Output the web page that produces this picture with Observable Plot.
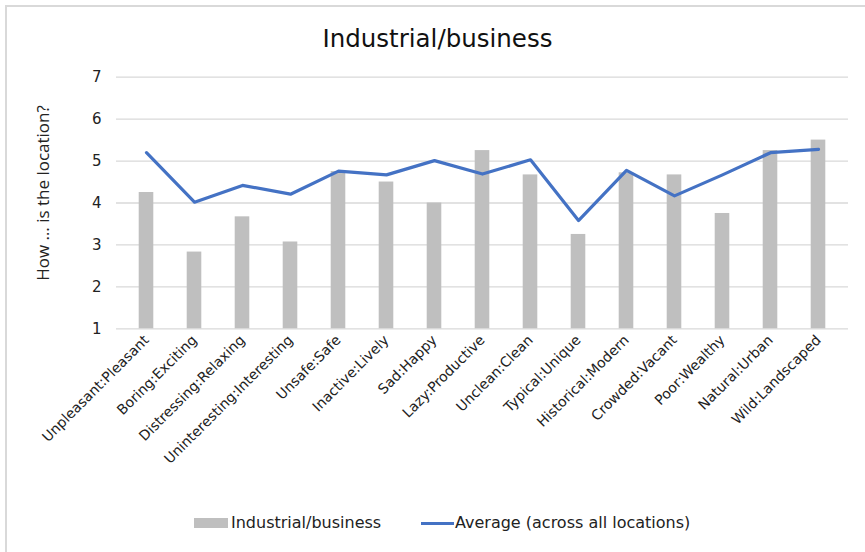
<!DOCTYPE html>
<html>
<head>
<meta charset="utf-8">
<script src="https://cdn.jsdelivr.net/npm/d3@7"></script>
<script src="https://cdn.jsdelivr.net/npm/@observablehq/plot@0.6"></script>
<style>
  html, body { margin: 0; padding: 0; background: #fff; width: 865px; height: 552px; overflow: hidden; }
  #frame { position: absolute; left: 5px; top: 5px; width: 900px; height: 600px; border: 2px solid #d9d9d9; box-sizing: border-box; }
  #title { position: absolute; left: 0; top: 24px; width: 875px; text-align: center; font-family: "DejaVu Sans", Verdana, sans-serif; font-size: 24.5px; color: #111; }
  #chart { position: absolute; left: 0; top: 60px; }
  #ylabel { position: absolute; left: 42px; top: 193px; transform: translate(-50%, -50%) rotate(-90deg); white-space: nowrap; font-family: "Open Sans", sans-serif; font-size: 17px; color: #222; }
  #legend { position: absolute; top: 513px; left: 0; font-family: "DejaVu Sans", Verdana, sans-serif; font-size: 16px; color: #222; }
  .sw { position: absolute; }
  .lt { position: absolute; white-space: nowrap; line-height: 20px; }
</style>
</head>
<body>
<div id="frame"></div>
<div id="title">Industrial/business</div>
<div id="chart"></div>
<div id="ylabel"></div>
<div id="legend"></div>
<script>
const categories = ["Unpleasant:Pleasant","Boring:Exciting","Distressing:Relaxing","Uninteresting:Interesting","Unsafe:Safe","Inactive:Lively","Sad:Happy","Lazy:Productive","Unclean:Clean","Typical:Unique","Historical:Modern","Crowded:Vacant","Poor:Wealthy","Natural:Urban","Wild:Landscaped"];
const industrial = [4.25, 2.83, 3.67, 3.07, 4.75, 4.5, 4.0, 5.25, 4.67, 3.25, 4.72, 4.67, 3.75, 5.25, 5.5];
const average = [5.2, 4.02, 4.42, 4.21, 4.76, 4.67, 5.01, 4.69, 5.03, 3.58, 4.78, 4.17, 4.67, 5.2, 5.28];
const yTicks = [1, 2, 3, 4, 5, 6, 7];
const yLabel = "How … is the location?";
const seriesNames = ["Industrial/business", "Average (across all locations)"];
const barColor = "#bfbfbf";
const lineColor = "#4472c4";

const data = categories.map((c, i) => ({cat: c, ind: industrial[i], avg: average[i]}));

const plot = Plot.plot({
  width: 865,
  height: 450,
  marginTop: 16.7,
  marginBottom: 181.7,
  marginLeft: 116,
  marginRight: 17,
  style: {fontFamily: "DejaVu Sans, Verdana, sans-serif", fontSize: "14px", color: "#222", background: "transparent"},
  x: {domain: categories, padding: 0, label: null},
  y: {domain: [1, 7], ticks: yTicks, label: null},
  marks: [
    Plot.gridY(yTicks, {stroke: "#d9d9d9", strokeOpacity: 1, strokeWidth: 1.3}),
    Plot.barY(data, {x: "cat", y1: 1, y2: "ind", fill: barColor, insetLeft: 16.7, insetRight: 16.7}),
    Plot.line(data, {x: "cat", y: "avg", stroke: lineColor, strokeWidth: 3.2, strokeLinejoin: "round", strokeLinecap: "round"}),
    Plot.axisY(yTicks, {tickSize: 0, tickPadding: 15, fontSize: 15, label: null, tickFormat: d => String(d)}),
    Plot.axisX({tickSize: 0, tickRotate: -45, tickPadding: 9, fontSize: 14, label: null})
  ]
});
document.getElementById("chart").appendChild(plot);
document.getElementById("ylabel").textContent = yLabel;

const legend = document.getElementById("legend");
legend.innerHTML = `
  <div class="sw" style="left:194px; top:5px; width:34px; height:10px; background:${barColor}"></div>
  <div class="lt" style="left:231px; top:0px;">${seriesNames[0]}</div>
  <div class="sw" style="left:421px; top:9px; width:33px; height:3px; background:${lineColor}"></div>
  <div class="lt" style="left:455px; top:0px;">${seriesNames[1]}</div>
`;
</script>
</body>
</html>
